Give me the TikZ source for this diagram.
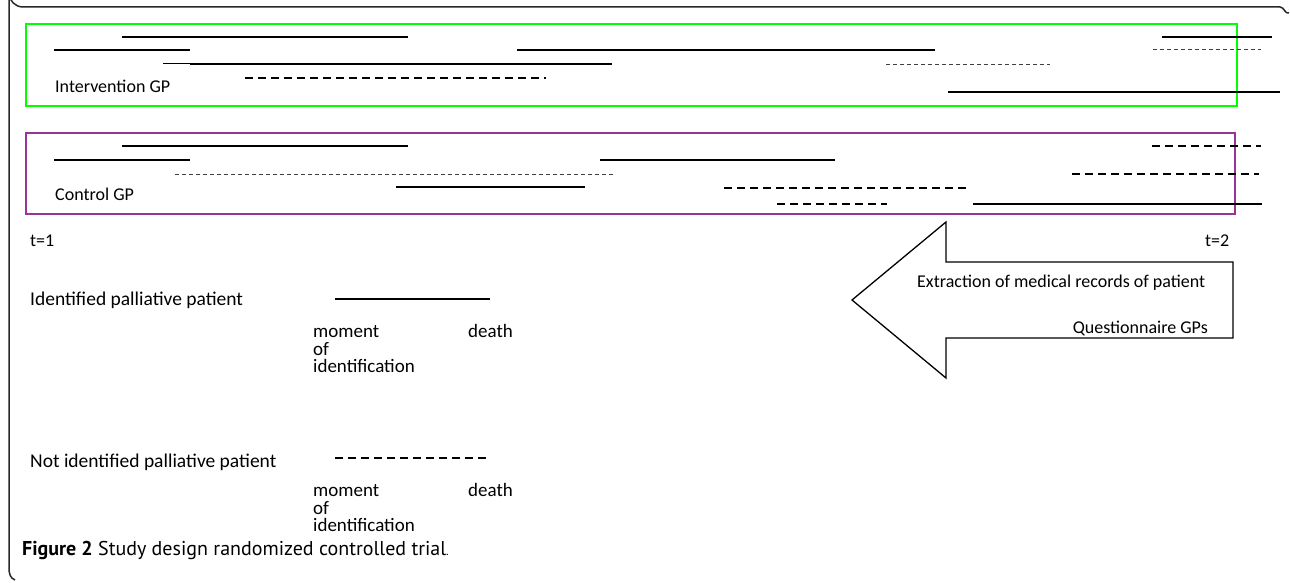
\documentclass[tikz,border=0pt]{standalone}
\usepackage{fontspec}
\setmainfont{Carlito}
\newfontfamily\capfont{PT Sans}
\definecolor{intgreen}{RGB}{0,255,0}
\definecolor{ctrlpurple}{RGB}{153,51,153}
\definecolor{framegrey}{RGB}{40,40,40}
\begin{document}
\begin{tikzpicture}[x=1pt,y=-1pt,
  solidln/.style={line width=2.2pt},
  thinln/.style={line width=1pt},
  dashthick/.style={line width=2pt, dash pattern=on 8pt off 5pt},
  dashthin/.style={line width=1pt, dash pattern=on 4pt off 3pt, black!75},
  lbl/.style={anchor=west, inner sep=0pt, font=\fontsize{18}{22}\selectfont},
  leg/.style={anchor=west, inner sep=0pt, font=\fontsize{19.5}{23}\selectfont},
  stack/.style={anchor=base west, inner sep=0pt, text height=11pt, text depth=2pt, font=\fontsize{19}{22}\selectfont},
  lblr/.style={anchor=east, inner sep=0pt, font=\fontsize{18}{22}\selectfont},
  boxframe/.style={line width=1.6pt}
]
\useasboundingbox (0,0) rectangle (1290,583);
% outer frame
\draw[framegrey, line width=1.5pt] (1289,13) to[out=-160,in=0] (1280,7) -- (23,7) arc[start angle=90,end angle=180,radius=14] -- (9,568) to[out=-90,in=160] (15,580);
% intervention box
\draw[intgreen, boxframe] (26,24) rectangle (1237,106);
\node[lbl] (intlbl) at (55,86) {Intervention GP};
\draw[solidln] (122,37) -- (408,37);
\draw[solidln] (1162,37) -- (1272,37);
\draw[solidln] (54,50) -- (190,50);
\draw[solidln] (517,50) -- (935,50);
\draw[dashthin] (1153,50) -- (1261,50);
\draw[thinln] (163,64) -- (190,64);
\draw[solidln] (190,64) -- (612,64);
\draw[dashthin] (886,65) -- (1050,65);
\draw[dashthick] (245,78) -- (546,78);
\draw[solidln] (948,92) -- (1280,92);
% control box
\draw[ctrlpurple, boxframe] (26,133) rectangle (1235,214);
\node[lbl] (ctrllbl) at (55,194) {Control GP};
\draw[solidln] (122,146) -- (408,146);
\draw[solidln] (54,160) -- (190,160);
\draw[solidln] (600,160) -- (835,160);
\draw[dashthin] (175,174) -- (613,174);
\draw[solidln] (396,187) -- (585,187);
\draw[dashthick] (1152,146) -- (1261,146);
\draw[dashthick] (1072,174) -- (1259,174);
\draw[dashthick] (724,188) -- (966,188);
\draw[dashthick] (777,204) -- (887,204);
\draw[solidln] (973,204) -- (1262,204);
% time labels
\node[lbl] (t1) at (30,241) {t=1};
\node[lbl] (t2) at (1205,241) {t=2};
% arrow
\draw[line width=1.3pt, fill=white, line join=miter] (852,300) -- (946,222) -- (946,262) -- (1233,262) -- (1233,338) -- (946,338) -- (946,378) -- cycle;
\node[lbl] (extr) at (917,283) {Extraction of medical records of patient};
\node[lblr] (quest) at (1208,328) {Questionnaire GPs};
% legend identified
\node[leg] (idp) at (30,300) {Identified palliative patient};
\draw[solidln] (335,299) -- (490,299);
\node[stack] (mom1) at (313,337) {moment};
\node[stack] (dea1) at (468,337) {death};
\node[stack] (of1) at (313,355) {of};
\node[stack] (ide1) at (313,372) {identification};
% legend not identified
\node[leg] (nidp) at (30,462) {Not identified palliative patient};
\draw[dashthick] (335,458) -- (488,458);
\node[stack] (mom2) at (313,496) {moment};
\node[stack] (dea2) at (468,496) {death};
\node[stack] (of2) at (313,514) {of};
\node[stack] (ide2) at (313,531) {identification};
% caption
\node[anchor=west, inner sep=0pt, font=\capfont\fontsize{20}{24}\selectfont] (cap) at (22,550) {\textbf{Figure 2} Study design randomized controlled trial{\fontsize{12}{14}\selectfont .}};
\end{tikzpicture}
\end{document}
